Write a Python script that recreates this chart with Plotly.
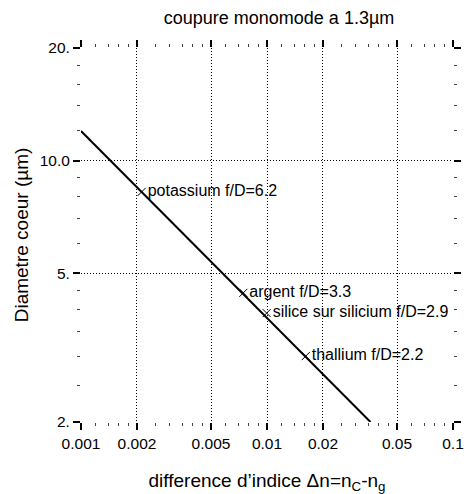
import plotly.graph_objects as go

title = "coupure monomode a 1.3µm"
line_dn = [0.001, 0.036]
line_d = [12.0, 2.0]

pt_dn = [0.00212, 0.00746, 0.00996, 0.01615]
pt_d = [8.25, 4.43, 3.91, 3.0]
pt_labels = ["potassium f/D=6.2", "argent f/D=3.3", "silice sur silicium f/D=2.9", "thallium f/D=2.2"]

x_ticks = [0.001, 0.002, 0.005, 0.01, 0.02, 0.05, 0.1]
x_ticktext = ["0.001", "0.002", "0.005", "0.01", "0.02", "0.05", "0.1"]
y_ticks = [2, 5, 10, 20]
y_ticktext = ["2.", "5.", "10.0", "20."]

mant = [1.2, 1.4, 1.6, 1.8, 2.5, 3, 3.5, 4, 4.5, 6, 7, 8, 9]
x_minor = [m * 10 ** e for e in (-3, -2) for m in mant]
y_minor = [m * 10 ** e for e in (0, 1) for m in mant if 2 < m * 10 ** e < 20]

FONT = "Liberation Sans, Arial, sans-serif"

fig = go.Figure()
fig.add_trace(go.Scatter(x=line_dn, y=line_d, mode="lines",
                         line=dict(color="black", width=2), showlegend=False))
fig.add_trace(go.Scatter(x=pt_dn, y=pt_d, mode="markers+text", text=pt_labels,
                         textposition="middle right",
                         textfont=dict(family=FONT, size=16, color="black"),
                         marker=dict(symbol="x-thin", size=8, line=dict(color="black", width=1)),
                         showlegend=False))

axis_common = dict(
    type="log", showgrid=True, gridcolor="black", griddash="1px,2px", gridwidth=1,
    showline=True, linecolor="rgba(0,0,0,0)", mirror="allticks",
    ticks="outside", ticklen=7, tickcolor="black", tickwidth=1.5,
    tickfont=dict(family=FONT, size=15.5, color="black"),
    zeroline=False, automargin=False,
)

fig.update_xaxes(**axis_common, range=[-3, -1], tickvals=x_ticks, ticktext=x_ticktext,
                 minor=dict(tickvals=x_minor, ticks="outside", ticklen=3, tickwidth=1,
                            tickcolor="#444", showgrid=False),
                 title=dict(text="difference d’indice Δn=n<sub>C</sub>-n<sub>g</sub>",
                            font=dict(family=FONT, size=19, color="black"), standoff=23))
fig.update_yaxes(**axis_common, range=[0.30103, 1.30103], tickvals=y_ticks, ticktext=y_ticktext,
                 minor=dict(tickvals=y_minor, ticks="outside", ticklen=3, tickwidth=1,
                            tickcolor="#444", showgrid=False),
                 title=dict(text="Diametre coeur (µm)",
                            font=dict(family=FONT, size=19, color="black"), standoff=6))

fig.update_layout(
    width=464, height=494,
    margin=dict(l=81, r=11, t=48, b=72),
    paper_bgcolor="white", plot_bgcolor="white",
    title=dict(text=title, x=247 / 464, xanchor="center", xref="paper", y=1 - 18 / 494, yanchor="middle",
               font=dict(family=FONT, size=18, color="black")),
)

fig.write_html("out.html", config={"displayModeBar": False},
               post_script="document.body.style.margin='0';document.body.style.overflow='hidden';")
